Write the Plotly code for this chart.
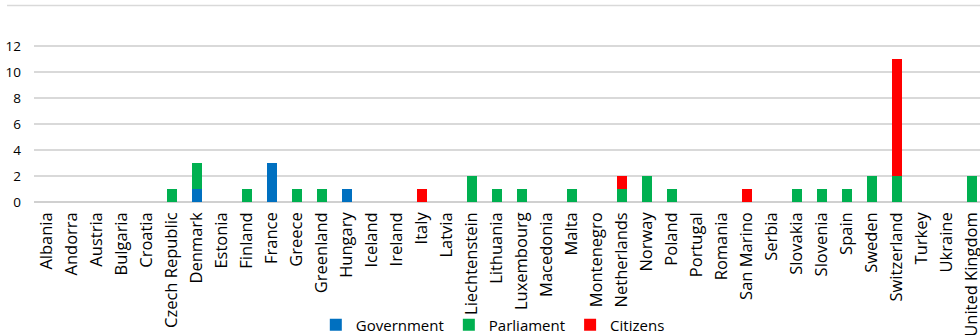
import plotly.graph_objects as go

countries = [
    "Albania", "Andorra", "Austria", "Bulgaria", "Croatia", "Czech Republic",
    "Denmark", "Estonia", "Finland", "France", "Greece", "Greenland", "Hungary",
    "Iceland", "Ireland", "Italy", "Latvia", "Liechtenstein", "Lithuania",
    "Luxembourg", "Macedonia", "Malta", "Montenegro", "Netherlands", "Norway",
    "Poland", "Portugal", "Romania", "San Marino", "Serbia", "Slovakia",
    "Slovenia", "Spain", "Sweden", "Switzerland", "Turkey", "Ukraine",
    "United Kingdom",
]

government = [0, 0, 0, 0, 0, 0, 1, 0, 0, 3, 0, 0, 1, 0, 0, 0, 0, 0, 0,
              0, 0, 0, 0, 0, 0, 0, 0, 0, 0, 0, 0, 0, 0, 0, 0, 0, 0, 0]
parliament = [0, 0, 0, 0, 0, 1, 2, 0, 1, 0, 1, 1, 0, 0, 0, 0, 0, 2, 1,
              1, 0, 1, 0, 1, 2, 1, 0, 0, 0, 0, 1, 1, 1, 2, 2, 0, 0, 2]
citizens = [0, 0, 0, 0, 0, 0, 0, 0, 0, 0, 0, 0, 0, 0, 0, 1, 0, 0, 0,
            0, 0, 0, 0, 1, 0, 0, 0, 0, 1, 0, 0, 0, 0, 0, 9, 0, 0, 0]

y_ticks = [0, 2, 4, 6, 8, 10, 12]

series = [
    ("Government", government, "#0070C0"),
    ("Parliament", parliament, "#00B050"),
    ("Citizens", citizens, "#FF0000"),
]

font_family = "Open Sans"

fig = go.Figure()
for name, values, color in series:
    fig.add_trace(go.Bar(
        x=countries, y=values, name=name,
        marker=dict(color=color, line=dict(width=0)),
    ))

fig.update_layout(
    barmode="stack",
    bargap=0.6,
    width=980, height=335,
    margin=dict(l=34, r=0, t=43, b=133, autoexpand=False),
    paper_bgcolor="white",
    plot_bgcolor="white",
    font=dict(family=font_family, size=13, color="#000000"),
    showlegend=True,
    legend=dict(
        orientation="h",
        x=0.485, xanchor="center",
        y=-0.774, yanchor="middle",
        font=dict(size=15),
        itemwidth=30,
        traceorder="normal",
        bgcolor="rgba(0,0,0,0)",
    ),
    xaxis=dict(
        type="category",
        range=[-0.5, 37.34],
        tickangle=-90,
        automargin=False,
        showgrid=False,
        showline=False,
        zeroline=False,
        ticks="",
        ticklabelstandoff=6,
        tickfont=dict(size=16.5),
    ),
    yaxis=dict(
        range=[0, 12.23],
        tickvals=y_ticks,
        automargin=False,
        showgrid=True,
        gridcolor="#D9D9D9",
        gridwidth=1.5,
        zeroline=True,
        zerolinecolor="#D0D0D0",
        zerolinewidth=1.5,
        showline=False,
        ticks="",
        ticklabelstandoff=12,
        tickfont=dict(size=13.5),
    ),
    shapes=[dict(
        type="line", xref="paper", yref="paper",
        x0=-0.0285, x1=1.0, y0=1.236, y1=1.236,
        line=dict(color="#D9D9D9", width=1.5),
    )],
)

fig.write_html("out.html")
